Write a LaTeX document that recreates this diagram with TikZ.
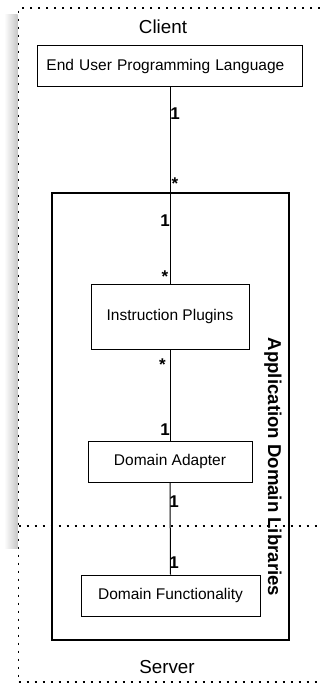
\documentclass[tikz,border=0pt]{standalone}
\usepackage{fontspec}
\setmainfont{Liberation Sans}
\begin{document}
\begin{tikzpicture}[x=1pt,y=-1pt,
  box/.style={draw,line width=1pt,inner sep=0pt,font=\fontsize{15.5}{17}\selectfont},
  bigbox/.style={draw,line width=2.2pt,inner sep=0pt},
  mult/.style={font=\bfseries\fontsize{17}{18}\selectfont,anchor=base,inner sep=0pt},
  zone/.style={font=\fontsize{18.8}{20}\selectfont,anchor=base,inner sep=0pt},
  dotline/.style={line width=1.2pt,dash pattern=on 2.2pt off 5.8pt},
  conn/.style={line width=1pt}]
\useasboundingbox (0,0) rectangle (320,683);
\fill[white] (0,0) rectangle (320,683);
% shadow
\shade[left color=white,right color=black!22] (4,14) rectangle (17.5,548);
\fill[white] (0,0) rectangle (18,8);
% dotted frame
\draw[dotline] (320,8) -- (18.5,8) -- (18.5,683);
\draw[dotline] (18.5,682) -- (320,682);
\draw[dotline] (18.5,526) -- (320,526);
% zone labels
\node[zone] (client) at (163,33) {Client};
\node[zone] (server) at (167,673) {Server};
% boxes
\node[bigbox,minimum width=237pt,minimum height=447pt] (adl) at (170.5,416.5) {};
\node[font=\bfseries\fontsize{18.6}{20}\selectfont,rotate=-90,inner sep=0pt] (adllabel) at (273,467) {Application Domain Libraries};
\node[box,minimum width=265pt,minimum height=41pt,text width=257pt,align=left] (eu) at (170,66) {\hspace*{5pt}End User Programming Language};
\node[box,minimum width=158pt,minimum height=65pt] (ip) at (170,316.5) {Instruction Plugins};
\node[box,minimum width=164pt,minimum height=41pt] (da) at (170,461.5) {Domain Adapter};
\node[box,minimum width=179pt,minimum height=41pt] (df) at (170.5,595.5) {Domain Functionality};
% connectors
\draw[conn] (eu.south) -- (ip.north);
\draw[conn] (ip.south) -- (da.north);
\draw[conn] (da.south) -- (df.north);
% multiplicities
\node[mult] (m1) at (175,119) {1};
\node[mult] (m2) at (175,189) {*};
\node[mult] (m3) at (165,226) {1};
\node[mult] (m4) at (165,282) {*};
\node[mult] (m5) at (162.5,370) {*};
\node[mult] (m6) at (165,435) {1};
\node[mult] (m7) at (174,507) {1};
\node[mult] (m8) at (174,568) {1};
\end{tikzpicture}
\end{document}
